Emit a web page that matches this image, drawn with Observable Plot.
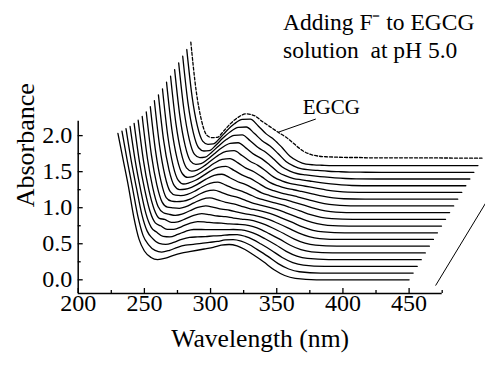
<!DOCTYPE html>
<html><head><meta charset="utf-8">
<script src="https://cdn.jsdelivr.net/npm/d3@7"></script>
<script src="https://cdn.jsdelivr.net/npm/@observablehq/plot@0.6"></script>
<style>
html,body{margin:0;padding:0;background:#fff;overflow:hidden;}
#wrap{position:relative;width:485px;height:365px;font-family:"Liberation Serif","Times New Roman",serif;}
.title{position:absolute;left:283px;font-family:"Liberation Serif","Times New Roman",serif;font-size:23.5px;line-height:28.7px;color:#000;white-space:pre;z-index:2;}
</style></head><body><div id="wrap"><div class="title" style="top:7.7px">Adding F⁻ to EGCG</div><div class="title" style="top:36.4px">solution  at pH 5.0</div></div>
<script>
// wavelength grid (nm)
const wl = [230, 234, 238, 242, 246, 250, 255, 260, 266, 272, 278, 284, 290, 296, 302, 308, 314, 320, 326, 332, 340, 348, 356, 364, 380, 450];
// absorbance of each spectrum (front = c0 ... back = c17), dashed = EGCG
const c0  = [2.03, 1.66, 1.29, 0.87, 0.56, 0.40, 0.31, 0.28, 0.30, 0.34, 0.37, 0.39, 0.41, 0.43, 0.45, 0.48, 0.49, 0.47, 0.42, 0.35, 0.25, 0.14, 0.06, 0.02, 0.00, 0.00];
const c1  = [1.97, 1.56, 1.18, 0.79, 0.52, .395, .315, .292, .317, .358, .387, .400, .412, .427, .439, .460, .465, .444, .397, .330, .236, .132, .057, .019, .001, .001];
const c2  = [1.91, 1.46, 1.08, 0.72, 0.49, .389, .319, .305, .334, .376, .403, .410, .415, .423, .428, .440, .441, .418, .373, .311, .222, .125, .054, .019, .001, .001];
const c3  = [1.85, 1.36, 0.97, 0.64, 0.45, .384, .324, .317, .351, .395, .420, .420, .417, .419, .417, .420, .416, .392, .349, .291, .208, .117, .051, .018, .002, .002];
const c4  = [1.80, 1.27, 0.88, 0.58, 0.42, .379, .329, .329, .368, .413, .437, .430, .419, .416, .405, .400, .391, .367, .326, .271, .194, .109, .048, .018, .002, .002];
const c5  = [1.75, 1.19, 0.79, 0.52, 0.39, .374, .334, .342, .385, .431, .454, .440, .422, .412, .394, .380, .367, .341, .302, .252, .179, .102, .045, .017, .003, .003];
const c6  = [1.71, 1.12, 0.72, 0.46, .375, .355, .338, .354, .402, .449, .471, .450, .424, .409, .383, .360, .342, .315, .279, .232, .165, .094, .042, .016, .004, .004];
const c7  = [1.68, 1.07, 0.67, 0.43, 0.36, 0.35, .343, .366, .419, .468, .487, .460, .427, .405, .372, .340, .317, .289, .255, .212, .151, .086, .039, .016, .004, .004];
const c8  = [1.66, 1.04, 0.63, 0.40, 0.35, .343, .350, .379, .436, .486, .504, .470, .429, .402, .361, .320, .292, .263, .232, .192, .137, .079, .037, .015, .005, .005];
const c9  = [1.65, 1.02, 0.61, 0.39, 0.34, .335, .352, .391, .454, .504, .521, .480, .431, .398, .349, .300, .268, .237, .208, .173, .123, .071, .034, .015, .005, .005];
const c10 = [1.64, 1.00, 0.60, 0.38, .325, 0.33, .357, .404, .471, .522, .538, .490, .434, .395, .338, .280, .243, .211, .185, .153, .109, .064, .031, .014, .006, .006];
const c11 = [1.63, 0.98, 0.57, 0.36, 0.31, .325, .362, .416, .488, .541, .554, .500, .436, .391, .327, .260, .218, .185, .161, .133, .095, .056, .028, .014, .006, .006];
const c12 = [1.63, 0.98, 0.57, 0.36, 0.31, 0.32, .367, .428, .505, .559, .571, .510, .438, .388, .316, .240, .194, .159, .138, .114, .081, .048, .025, .013, .007, .007];
const c13 = [1.62, 0.97, 0.56, 0.35, .305, .318, .371, .441, .522, .577, .588, .520, .441, .384, .305, .220, .169, .134, .114, .094, .067, .041, .022, .012, .008, .008];
const c14 = [1.62, 0.97, 0.56, 0.35, .305, .315, .376, .453, .539, .595, .605, .530, .443, .381, .294, .200, .144, .108, .091, .074, .052, .033, .019, .012, .008, .008];
const c15 = [1.62, 0.97, 0.56, 0.35, .305, .312, .381, .465, .556, .614, .622, .540, .445, .377, .282, .180, .119, .082, .067, .054, .038, .025, .016, .011, .009, .009];
const c16 = [1.62, 0.97, 0.56, 0.35, .305, 0.31, .385, .478, .573, .632, .638, .550, .448, .374, .271, .160, .095, .056, .044, .035, .024, .018, .013, .011, .009, .009];
const c17 = [1.62, 0.97, 0.56, 0.35, .305, 0.31, 0.39, 0.49, 0.59, 0.65, .655, 0.56, 0.45, 0.37, 0.26, 0.14, 0.07, 0.03, 0.02, .015, 0.01, 0.01, 0.01, 0.01, 0.01, 0.01];
const egcg = [1.63, 0.96, 0.55, 0.34, .305, 0.31, 0.40, 0.50, 0.59, .635, 0.61, 0.53, .455, 0.38, 0.31, 0.22, 0.13, .075, 0.05, 0.04, .035, 0.03, 0.03, .025, .025, 0.02];

// waterfall offsets per spectrum
const shiftNm = 3.06;
const shiftAbs = 0.0926;

// axes
const xMajor = [200, 250, 300, 350, 400, 450];
const xMinor = [225, 275, 325, 375, 425, 475];
const yMajor = [0, 0.5, 1.0, 1.5, 2.0];
const yMinor = [0.25, 0.75, 1.25, 1.75];
const xDomain = [200, 475];
const yDomain = [-0.19, 2.2];

// annotation
const egcgLabel = {text: "EGCG", x: 369.6, y: 2.40};
const leaderStart = [379.5, 2.23];
const leaderAtNm = 296;
const depthAxisStart = [470, -0.08];

const serif = "Liberation Serif, Times New Roman, serif";

const spectra = [c0, c1, c2, c3, c4, c5, c6, c7, c8, c9, c10, c11, c12, c13, c14, c15, c16, c17, egcg];
const rows = [];
spectra.forEach((s, i) => s.forEach((a, j) => rows.push({curve: i, x: wl[j] + i * shiftNm, y: a + i * shiftAbs, dashed: s === egcg})));
const nBack = spectra.length - 1;
const jLead = wl.indexOf(leaderAtNm);
const leader = [{x1: leaderStart[0], y1: leaderStart[1], x2: wl[jLead] + nBack * shiftNm, y2: egcg[jLead] + nBack * shiftAbs}];
const depth = [{x1: depthAxisStart[0], y1: depthAxisStart[1], x2: depthAxisStart[0] + nBack * shiftNm, y2: depthAxisStart[1] + nBack * shiftAbs}];

const pxPerNm = (485 - 77.7 - 43.3) / (xDomain[1] - xDomain[0]);
const pxPerAbs = (365 - 120.7 - 72) / (yDomain[1] - yDomain[0]);

const plot = Plot.plot({
  width: 485, height: 365,
  marginLeft: 77.7, marginRight: 43.3, marginTop: 120.7, marginBottom: 72,
  style: {fontFamily: serif, fontSize: "24px", background: "transparent", overflow: "visible"},
  x: {domain: xDomain, axis: null},
  y: {domain: yDomain, axis: null},
  marks: [
    Plot.line(rows.filter(d => !d.dashed), {x: "x", y: "y", z: "curve", curve: "monotone-x", stroke: "black", strokeWidth: 1.3}),
    Plot.line(rows.filter(d => d.dashed), {x: "x", y: "y", curve: "monotone-x", stroke: "black", strokeWidth: 1.3, strokeDasharray: "3,2"}),
    Plot.ruleX([xDomain[0]], {stroke: "black", strokeWidth: 1.5}),
    Plot.ruleY([yDomain[0]], {stroke: "black", strokeWidth: 1.5}),
    Plot.ruleX(xMajor, {y1: yDomain[0], y2: yDomain[0] + 5 / pxPerAbs, stroke: "black", strokeWidth: 1.3}),
    Plot.ruleX(xMinor, {y1: yDomain[0], y2: yDomain[0] + 3 / pxPerAbs, stroke: "black", strokeWidth: 1.3}),
    Plot.ruleY(yMajor, {x1: xDomain[0], x2: xDomain[0] + 5 / pxPerNm, stroke: "black", strokeWidth: 1.3}),
    Plot.ruleY(yMinor, {x1: xDomain[0], x2: xDomain[0] + 3 / pxPerNm, stroke: "black", strokeWidth: 1.3}),
    Plot.text(xMajor, {x: d => d, frameAnchor: "bottom", dy: 17.6, text: d => String(d), fill: "black", fontSize: 24, fontFamily: serif}),
    Plot.text(yMajor, {y: d => d, frameAnchor: "left", dx: -6, textAnchor: "end", text: d => d.toFixed(1), fill: "black", fontSize: 24, fontFamily: serif}),
    Plot.text(["Wavelength (nm)"], {frameAnchor: "bottom", dy: 53, text: d => d, fontSize: 25.6, fill: "black", fontFamily: serif}),
    Plot.text(["Absorbance"], {frameAnchor: "left", dx: -53, rotate: -90, text: d => d, fontSize: 26, fill: "black", fontFamily: serif}),
    Plot.text([egcgLabel], {x: "x", y: "y", text: "text", textAnchor: "start", fontSize: 21, fill: "black", fontFamily: serif}),
    Plot.link(leader, {x1: "x1", y1: "y1", x2: "x2", y2: "y2", stroke: "black", strokeWidth: 1}),
    Plot.link(depth, {x1: "x1", y1: "y1", x2: "x2", y2: "y2", stroke: "black", strokeWidth: 1})
  ]
});
document.getElementById("wrap").prepend(plot);
plot.style.position = "absolute";
plot.style.left = "0";
plot.style.top = "0";
</script></body></html>
